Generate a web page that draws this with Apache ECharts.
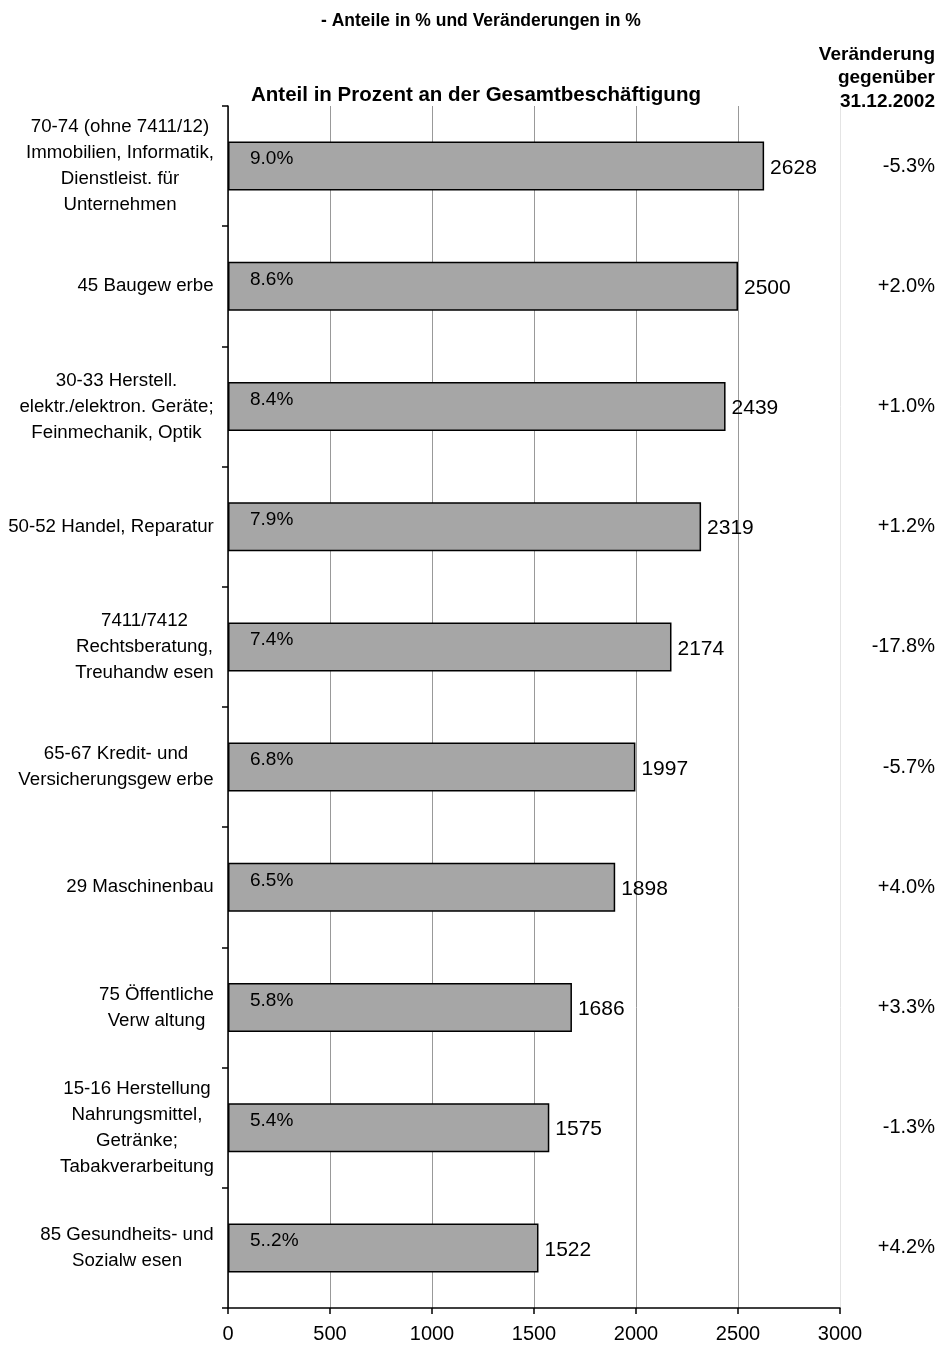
<!DOCTYPE html>
<html>
<head>
<meta charset="utf-8">
<script src="https://cdn.jsdelivr.net/npm/echarts@6/dist/echarts.min.js"></script>
<style>
  html, body { margin: 0; padding: 0; background: #fff; }
  #chart { width: 943px; height: 1351px; }
</style>
</head>
<body>
<div id="chart"></div>
<script>
const categories = [
  '70-74 (ohne 7411/12)\nImmobilien, Informatik,\nDienstleist. für\nUnternehmen',
  '45 Baugew erbe',
  '30-33 Herstell.\nelektr./elektron. Geräte;\nFeinmechanik, Optik',
  '50-52 Handel, Reparatur',
  '7411/7412\nRechtsberatung,\nTreuhandw esen',
  '65-67 Kredit- und\nVersicherungsgew erbe',
  '29 Maschinenbau',
  '75 Öffentliche\nVerw altung',
  '15-16 Herstellung\nNahrungsmittel,\nGetränke;\nTabakverarbeitung',
  '85 Gesundheits- und\nSozialw esen'
]
const values = [2628, 2500, 2439, 2319, 2174, 1997, 1898, 1686, 1575, 1522]
const shares = ['9.0%', '8.6%', '8.4%', '7.9%', '7.4%', '6.8%', '6.5%', '5.8%', '5.4%', '5..2%']
const changes = ['-5.3%', '+2.0%', '+1.0%', '+1.2%', '-17.8%', '-5.7%', '+4.0%', '+3.3%', '-1.3%', '+4.2%']
const xTicks = [0, 500, 1000, 1500, 2000, 2500, 3000]

const FONT = '"Liberation Sans", Arial, sans-serif'
const CAT_SIZE = 18.7

// each label block is right aligned, lines centred inside it
const ctx = document.createElement('canvas').getContext('2d')
ctx.font = CAT_SIZE + 'px ' + FONT
const rich = {}
categories.forEach((c, i) => {
  const w = Math.max(...c.split('\n').map(l => ctx.measureText(l).width))
  rich['c' + i] = { width: Math.ceil(w), align: 'center', fontSize: CAT_SIZE, lineHeight: 26, fontFamily: FONT, color: '#000' }
})

const chart = echarts.init(document.getElementById('chart'))

const option = {
  animation: false,
  backgroundColor: '#fff',
  textStyle: { fontFamily: FONT },
  title: [
    {
      text: '- Anteile in % und Veränderungen in %',
      left: 316, top: 7,
      textStyle: { fontSize: 17.5, fontWeight: 'bold', color: '#000', fontFamily: FONT }
    },
    {
      text: 'Anteil in Prozent an der Gesamtbeschäftigung',
      left: 246, top: 80,
      textStyle: { fontSize: 20.5, fontWeight: 'bold', color: '#000', fontFamily: FONT }
    }
  ],
  graphic: [
    {
      type: 'text',
      x: 935,
      y: 43,
      style: {
        text: 'Veränderung\ngegenüber\n31.12.2002',
        align: 'right',
        verticalAlign: 'top',
        font: 'bold 19px ' + FONT,
        lineHeight: 23.5,
        fill: '#000'
      }
    }
  ],
  grid: { left: 228, right: 103, top: 106, bottom: 43, containLabel: false },
  xAxis: {
    type: 'value',
    min: xTicks[0],
    max: xTicks[xTicks.length - 1],
    interval: 500,
    axisLine: { show: true, lineStyle: { color: '#000', width: 1.5 } },
    axisTick: { show: true, length: 6, lineStyle: { color: '#000', width: 1.5 } },
    axisLabel: { fontSize: 20, color: '#000', margin: 16, fontFamily: FONT, formatter: v => String(v) },
    splitLine: {
      show: true,
      lineStyle: { color: ['#999', '#999', '#999', '#999', '#999', '#999', '#e4e4e4'], width: 1 }
    }
  },
  yAxis: [
    {
      type: 'category',
      inverse: true,
      data: categories,
      axisLine: { show: true, lineStyle: { color: '#000', width: 1.5 } },
      axisTick: { show: true, length: 6, lineStyle: { color: '#000', width: 1.5 } },
      axisLabel: {
        margin: 14,
        formatter: (v, idx) => v.split('\n').map(l => '{c' + idx + '|' + l + '}').join('\n'),
        rich: rich
      }
    },
    {
      type: 'category',
      inverse: true,
      position: 'right',
      data: changes,
      axisLine: { show: false },
      axisTick: { show: false },
      axisLabel: { align: 'right', margin: 95, fontSize: 20, color: '#000', fontFamily: FONT }
    }
  ],
  series: [
    {
      type: 'bar',
      data: values,
      barWidth: 49,
      itemStyle: { color: '#a6a6a6', borderColor: '#000', borderWidth: 1.5 },
      label: {
        show: true,
        position: 'insideLeft',
        distance: 22,
        offset: [0, -7],
        fontSize: 19,
        color: '#000',
        fontFamily: FONT,
        formatter: p => shares[p.dataIndex]
      }
    },
    {
      type: 'bar',
      data: values,
      barWidth: 49,
      barGap: '-100%',
      itemStyle: { color: 'rgba(0,0,0,0)' },
      label: {
        show: true,
        position: 'right',
        distance: 6,
        offset: [0, 2],
        fontSize: 21,
        color: '#000',
        fontFamily: FONT
      }
    }
  ]
}

chart.setOption(option)
</script>
</body>
</html>
